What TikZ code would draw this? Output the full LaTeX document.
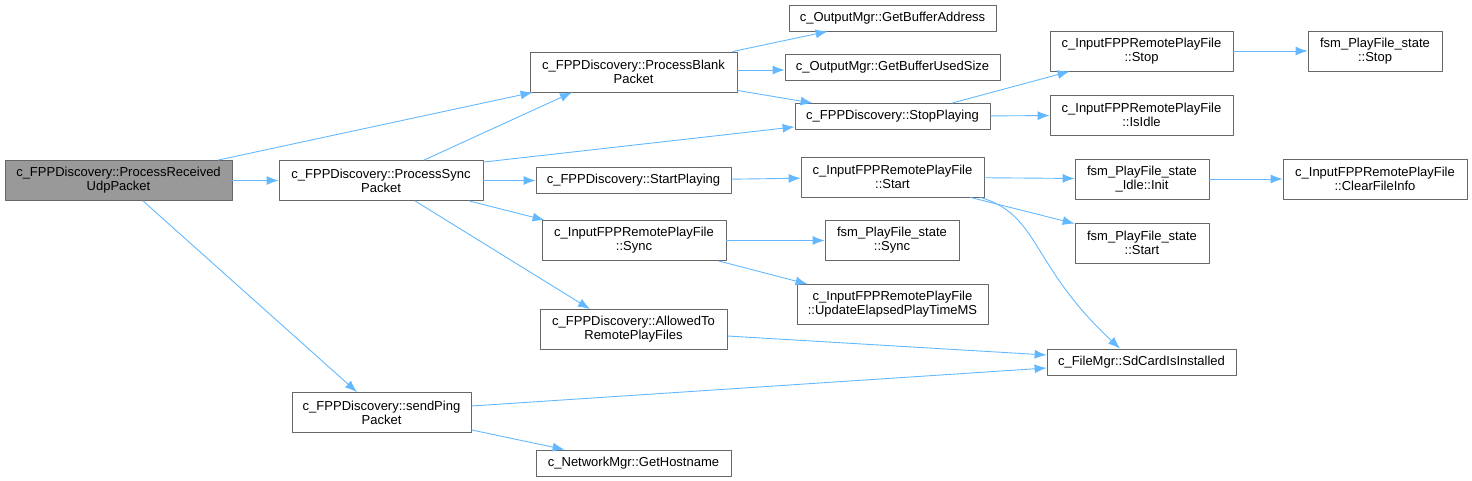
\documentclass[tikz,border=0pt]{standalone}
\usepackage{fontspec}
\setmainfont{Liberation Sans}
\usetikzlibrary{arrows.meta}
\definecolor{edgeblue}{HTML}{63B8FF}
\definecolor{boxgray}{HTML}{666666}
\definecolor{rootgray}{HTML}{999999}
\begin{document}
\begin{tikzpicture}[x=1pt,y=-1pt,line join=round,>={Latex[length=12pt,width=9pt]},
  fn/.style={draw=boxgray,line width=0.8pt,fill=white,inner sep=0pt,align=center,
    font=\fontsize{13}{14}\selectfont},
  one/.style={fn,minimum height=26pt,minimum width=#1},
  two/.style={fn,minimum height=40pt,minimum width=#1},
  call/.style={->,color=edgeblue,line width=0.9pt}]
  \useasboundingbox (0,0) rectangle (1472,481);
  \node[two=227,fill=rootgray] (prup) at (118.5,180.5) {c\_FPPDiscovery::ProcessReceived\\UdpPacket};
  \node[two=204] (psp) at (381,180.5) {c\_FPPDiscovery::ProcessSync\\Packet};
  \node[two=179] (ping) at (381.5,412.5) {c\_FPPDiscovery::sendPing\\Packet};
  \node[two=207] (pbp) at (633.5,72) {c\_FPPDiscovery::ProcessBlank\\Packet};
  \node[one=195] (startplay) at (633.5,180.5) {c\_FPPDiscovery::StartPlaying};
  \node[two=184] (sync) at (634,240.5) {c\_InputFPPRemotePlayFile\\::Sync};
  \node[two=187] (allowed) at (633.5,329.5) {c\_FPPDiscovery::AllowedTo\\RemotePlayFiles};
  \node[one=195] (hostname) at (633.5,463) {c\_NetworkMgr::GetHostname};
  \node[one=207] (bufaddr) at (892.5,18) {c\_OutputMgr::GetBufferAddress};
  \node[one=215] (bufsize) at (892.5,67) {c\_OutputMgr::GetBufferUsedSize};
  \node[one=195] (stopplay) at (892.5,116.5) {c\_FPPDiscovery::StopPlaying};
  \node[two=183] (start) at (892.5,177) {c\_InputFPPRemotePlayFile\\::Start};
  \node[two=134] (fsmsync) at (892,240.5) {fsm\_PlayFile\_state\\::Sync};
  \node[two=191] (elapsed) at (892.5,304.5) {c\_InputFPPRemotePlayFile\\::UpdateElapsedPlayTimeMS};
  \node[two=183] (ifstop) at (1141.5,51) {c\_InputFPPRemotePlayFile\\::Stop};
  \node[two=183] (isidle) at (1141.5,115) {c\_InputFPPRemotePlayFile\\::IsIdle};
  \node[two=134] (init) at (1142,179) {fsm\_PlayFile\_state\\\_Idle::Init};
  \node[two=134] (fsmstart) at (1142,243) {fsm\_PlayFile\_state\\::Start};
  \node[one=189] (sdcard) at (1141.5,362) {c\_FileMgr::SdCardIsInstalled};
  \node[two=134] (fsmstop) at (1375,51) {fsm\_PlayFile\_state\\::Stop};
  \node[two=184] (clear) at (1375,179) {c\_InputFPPRemotePlayFile\\::ClearFileInfo};

  \draw[call] ([xshift=99.5pt]prup.north) -- ([xshift=3pt]pbp.south west);
  \draw[call] (prup) -- (psp);
  \draw[call] ([xshift=24.5pt]prup.south) -- ([xshift=-24.5pt]ping.north);
  \draw[call] ([xshift=43pt]psp.north) -- ([xshift=-61.5pt]pbp.south);
  \draw[call] ([yshift=-2pt]psp.north east) -- ([yshift=3pt]stopplay.south west);
  \draw[call] (psp) -- (startplay);
  \draw[call] ([xshift=88pt]psp.south) -- ([xshift=3pt]sync.north west);
  \draw[call] ([xshift=34pt]psp.south) -- ([xshift=-43.5pt]allowed.north);
  \draw[call] ([xshift=-5pt]pbp.north east) -- ([xshift=39pt]bufaddr.south west);
  \draw[call] ([yshift=2pt]pbp.east) -- ([yshift=-3pt]bufsize.west);
  \draw[call] ([yshift=2pt]pbp.south east) -- ([xshift=18pt]stopplay.north west);
  \draw[call] ([xshift=59.5pt]stopplay.north) -- ([xshift=20pt]ifstop.south west);
  \draw[call] (stopplay) -- (isidle);
  \draw[call] (ifstop) -- (fsmstop);
  \draw[call] (startplay) -- (start);
  \draw[call] (start) -- (init);
  \draw[call] ([xshift=-14pt]start.south east) -- ([yshift=-1pt]fsmstart.north west);
  \draw[call] ([xshift=-4pt]start.south east) .. controls (1040,215) and (1030,265) .. ([xshift=-21.5pt]sdcard.north);
  \draw[call] (init) -- (clear);
  \draw[call] (sync) -- (fsmsync);
  \draw[call] ([xshift=-8pt]sync.south east) -- ([xshift=11pt]elapsed.north west);
  \draw[call] ([yshift=-6.5pt]allowed.east) -- ([yshift=7pt]sdcard.west);
  \draw[call] ([yshift=6.5pt]ping.east) -- ([yshift=-6pt]sdcard.west);
  \draw[call] ([yshift=3pt]ping.south east) -- ([xshift=29pt]hostname.north west);
\end{tikzpicture}
\end{document}
